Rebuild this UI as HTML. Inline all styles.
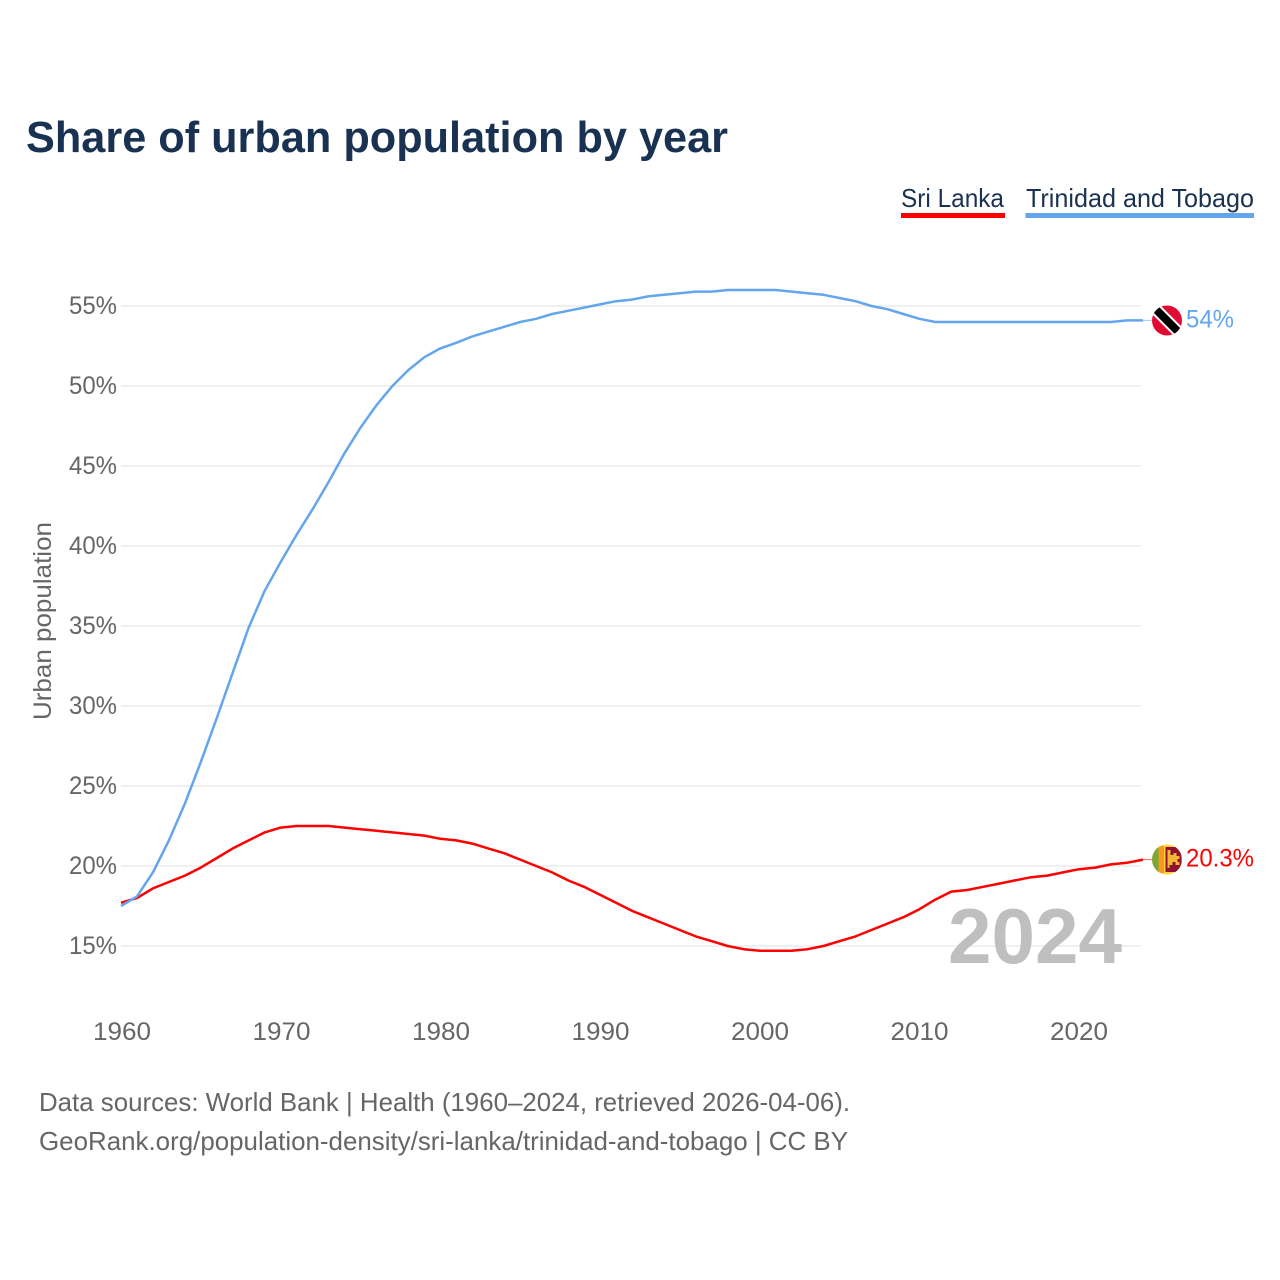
<!DOCTYPE html>
<html lang="en">
<head>
<meta charset="utf-8">
<title>Share of urban population by year</title>
<style>
html,body{margin:0;padding:0;background:#fff}
svg{display:block;font-family:"Liberation Sans",sans-serif}
</style>
</head>
<body>
<svg id="chart" xmlns="http://www.w3.org/2000/svg" width="1280" height="1280" viewBox="0 0 1280 1280">
  <rect width="1280" height="1280" fill="#fff"/>
  <text x="26" y="152" font-size="44" font-weight="700" fill="#1a3251" textLength="702" lengthAdjust="spacingAndGlyphs">Share of urban population by year</text>

  <g>
    <text x="901" y="207" font-size="26" fill="#1a3251" textLength="103" lengthAdjust="spacingAndGlyphs">Sri Lanka</text>
    <rect x="901" y="213" width="104" height="5" fill="#ff0000"/>
  </g>
  <g>
    <text x="1026" y="207" font-size="26" fill="#1a3251" textLength="228" lengthAdjust="spacingAndGlyphs">Trinidad and Tobago</text>
    <rect x="1025.500" y="213" width="228.500" height="5" fill="#63a6ee"/>
  </g>

  <g id="grid"></g>
  <g id="yticks"></g>
  <g id="xticks"></g>
  <text transform="translate(51,621) rotate(-90)" text-anchor="middle" font-size="25" fill="#666" textLength="198" lengthAdjust="spacingAndGlyphs">Urban population</text>

  <text x="948" y="963" font-size="78" font-weight="700" fill="#bfbfbf" textLength="174" lengthAdjust="spacingAndGlyphs">2024</text>

  <g id="series"></g>

  <g id="flag-tt">
    <clipPath id="clip-tt"><circle cx="1167" cy="320.500" r="15"/></clipPath>
    <g clip-path="url(#clip-tt)">
      <rect x="1150" y="303" width="34" height="34" fill="#e00b33"/>
      <line x1="1150" y1="303.500" x2="1184" y2="337.500" stroke="#fff" stroke-width="12"/>
      <line x1="1150" y1="303.500" x2="1184" y2="337.500" stroke="#000" stroke-width="8"/>
    </g>
  </g>
  <g id="flag-lk">
    <clipPath id="clip-lk"><circle cx="1167" cy="859.500" r="15"/></clipPath>
    <g clip-path="url(#clip-lk)">
      <rect x="1150" y="842" width="34" height="34" fill="#ffd23f"/>
      <rect x="1152" y="846" width="6.500" height="27" fill="#7ba63c"/>
      <rect x="1158.500" y="846" width="5.500" height="27" fill="#f59a1c"/>
      <rect x="1165.500" y="847" width="16" height="25" fill="#8f1233"/>
      <path d="M1167.500 850h3v5h3v-2h3v3h3v3h-2v3h2v3h-4v-3h-3v3h-3v3h-2z" fill="#f2b632"/>
    </g>
  </g>
  <text x="1186" y="327.500" font-size="25" fill="#63a6ee" textLength="48" lengthAdjust="spacingAndGlyphs">54%</text>
  <text x="1186" y="866.500" font-size="25" fill="#ff0000" textLength="68" lengthAdjust="spacingAndGlyphs">20.3%</text>

  <text x="39" y="1111" font-size="26" fill="#666" textLength="811" lengthAdjust="spacingAndGlyphs">Data sources: World Bank | Health (1960–2024, retrieved 2026-04-06).</text>
  <text x="39" y="1150" font-size="26" fill="#666" textLength="809" lengthAdjust="spacingAndGlyphs">GeoRank.org/population-density/sri-lanka/trinidad-and-tobago | CC BY</text>
</svg>
<script>
const firstYear = 1960;
const yTickValues = [15, 20, 25, 30, 35, 40, 45, 50, 55];
const yTickLabels = ['15%', '20%', '25%', '30%', '35%', '40%', '45%', '50%', '55%'];
const xTickValues = [1960, 1970, 1980, 1990, 2000, 2010, 2020];
const xTickLabels = ['1960', '1970', '1980', '1990', '2000', '2010', '2020'];
const sriLanka = [17.7,18.0,18.6,19.0,19.4,19.9,20.5,21.1,21.6,22.1,22.4,22.5,22.5,22.5,22.4,22.3,22.2,22.1,22.0,21.9,21.7,21.6,21.4,21.1,20.8,20.4,20.0,19.6,19.1,18.7,18.2,17.7,17.2,16.8,16.4,16.0,15.6,15.3,15.0,14.8,14.7,14.7,14.7,14.8,15.0,15.3,15.6,16.0,16.4,16.8,17.3,17.9,18.4,18.5,18.7,18.9,19.1,19.3,19.4,19.6,19.8,19.9,20.1,20.2,20.4];
const trinidadTobago = [17.5,18.1,19.6,21.6,23.9,26.5,29.25,32.1,34.9,37.2,39.0,40.7,42.3,44.0,45.8,47.4,48.8,50.0,51.0,51.8,52.35,52.7,53.1,53.4,53.7,54.0,54.2,54.5,54.7,54.9,55.1,55.3,55.4,55.6,55.7,55.8,55.9,55.9,56.0,56.0,56.0,56.0,55.9,55.8,55.7,55.5,55.3,55.0,54.8,54.5,54.2,54.0,54.0,54.0,54.0,54.0,54.0,54.0,54.0,54.0,54.0,54.0,54.0,54.1,54.1];

const NS = 'http://www.w3.org/2000/svg';
const xScale = year => 121 + (year - 1960) * 15.967;
const yScale = value => 946 - (value - 15) * 16;

function make(tag, attrs, parent) {
  const el = document.createElementNS(NS, tag);
  for (const key in attrs) el.setAttribute(key, attrs[key]);
  parent.appendChild(el);
  return el;
}

const grid = document.getElementById('grid');
const yticks = document.getElementById('yticks');
const xticks = document.getElementById('xticks');
const series = document.getElementById('series');

yTickValues.forEach((value, i) => {
  const line = make('line', {x1: 121, x2: 1141, y1: yScale(value), y2: yScale(value), stroke: '#ebebeb', 'stroke-width': 1.500}, grid);
  
  
  const label = make('text', {x: 117, y: yScale(value) + 8, 'text-anchor': 'end', 'font-size': 25, fill: '#666', textLength: 48, lengthAdjust: 'spacingAndGlyphs'}, yticks);
  
  
  label.textContent = yTickLabels[i];
});

xTickValues.forEach((year, i) => {
  const label = make('text', {x: xScale(year) + 1 - (year - firstYear) / 60, y: 1040, 'text-anchor': 'middle', 'font-size': 25, fill: '#666', textLength: 58, lengthAdjust: 'spacingAndGlyphs'}, xticks);
  
  
  label.textContent = xTickLabels[i];
});

function drawSeries(values, color, name) {
  const points = values.map((v, i) => xScale(firstYear + i).toFixed(1) + ',' + yScale(v).toFixed(1)).join(' ');
  const path = make('polyline', {points: points, fill: 'none', stroke: color, 'stroke-width': 2.500, 'stroke-linejoin': 'round'}, series);
  
  
  const lastY = yScale(values[values.length - 1]);
  const leader = make('line', {x1: xScale(firstYear + values.length - 1), x2: 1152, y1: lastY, y2: lastY, stroke: color, 'stroke-width': 1, 'stroke-opacity': 0.6}, series);
  
  
}
drawSeries(sriLanka, '#ff0000', 'line-sri-lanka');
drawSeries(trinidadTobago, '#63a6ee', 'line-trinidad-and-tobago');
</script>
</body>
</html>
